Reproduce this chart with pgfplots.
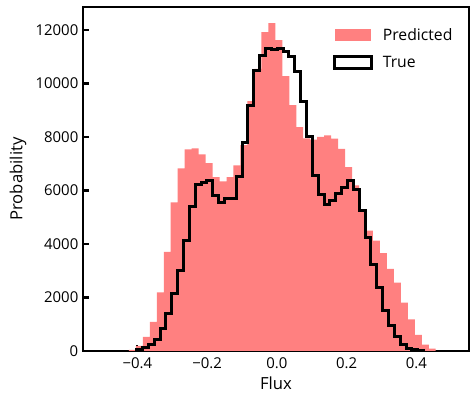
\documentclass[border=0pt]{standalone}
\usepackage{pgfplots}
\pgfplotsset{compat=1.18}
\usepackage{fontspec}
\setmainfont{Open Sans}
\definecolor{predred}{RGB}{255,128,128}
\begin{document}
\begin{tikzpicture}[x=1pt,y=1pt]
\begin{axis}[
  at={(0,0)},anchor=south west,
  scale only axis,
  width=289.5pt,height=258pt,
  xmin=-0.556,xmax=0.551,ymin=0,ymax=12860,
  axis line style={line width=1.7pt},
  tick align=inside,
  xtick pos=bottom,ytick pos=left,
  major tick length=4.5pt,
  every tick/.style={black,line width=1.6pt},
  xtick={-0.4,-0.2,0,0.2,0.4},
  xticklabels={−0.4,−0.2,0.0,0.2,0.4},
  ytick={0,2000,4000,6000,8000,10000,12000},
  yticklabels={0,2000,4000,6000,8000,10000,12000},
  tick label style={font=\fontsize{11.2}{13}\selectfont},
  xticklabel style={yshift=-1.5pt},
  label style={font=\fontsize{12.5}{14}\selectfont},
  xlabel={Flux},ylabel={Probability},
  xlabel style={yshift=1pt},
  legend style={draw=none,fill=none,at={(axis description cs:0.975,0.955)},anchor=north east,
    font=\fontsize{11.8}{14}\selectfont,row sep=6.5pt},
  legend cell align=left,
]
\addplot[const plot mark left,fill=predred,draw=none,
  legend image code/.code={\fill[predred] (0pt,-4.5pt) rectangle (27.5pt,4.5pt);
    \path (33pt,0pt);}]
coordinates {
(-0.4244,40) (-0.4044,190) (-0.3844,525) (-0.3644,1090) (-0.3444,2190)
(-0.3244,3710) (-0.3044,5560) (-0.2844,6825) (-0.2644,7540) (-0.2444,7575)
(-0.2244,7350) (-0.2044,7020) (-0.1844,6500) (-0.1644,6340) (-0.1444,6500)
(-0.1244,6940) (-0.1044,7700) (-0.0844,9340) (-0.0644,10550) (-0.0444,11920)
(-0.0244,12260) (-0.0044,11625) (0.0156,10275) (0.0356,9190) (0.0556,8370)
(0.0756,7950) (0.0956,7900) (0.1156,8000) (0.1356,8060) (0.1556,7940)
(0.1756,7560) (0.1956,6875) (0.2156,6190) (0.2356,5270) (0.2556,4500)
(0.2756,4125) (0.2956,3660) (0.3156,3070) (0.3356,2555) (0.3556,1805)
(0.3756,1180) (0.3956,600) (0.4156,240) (0.4356,85) (0.4556,85)
} \closedcycle;
\addlegendentry{Predicted}
\addplot[const plot mark left,black,line width=2.25pt,
  legend image code/.code={\draw[black,line width=2pt] (0pt,-4.5pt) rectangle (27.5pt,4.5pt);
    \path (33pt,0pt);}]
coordinates {
(-0.4023,0)
(-0.4023,50) (-0.3855,125) (-0.3687,225) (-0.3519,440) (-0.3351,850)
(-0.3183,1410) (-0.3015,2160) (-0.2847,3000) (-0.2679,4125) (-0.2511,5410)
(-0.2343,6225) (-0.2175,6300) (-0.2007,6375) (-0.1839,5800) (-0.1671,5560)
(-0.1503,5690) (-0.1335,5690) (-0.1167,6540) (-0.0999,7810) (-0.0831,9190)
(-0.0663,10500) (-0.0495,11060) (-0.0327,11310) (-0.0158,11275) (0.0010,11310)
(0.0178,11190) (0.0346,11020) (0.0514,10450) (0.0682,9310) (0.0850,8000)
(0.1018,6560) (0.1186,5840) (0.1354,5460) (0.1522,5625) (0.1690,5875)
(0.1858,6100) (0.2026,6375) (0.2194,6040) (0.2362,5250) (0.2530,4260)
(0.2698,3250) (0.2866,2360) (0.3034,1500) (0.3202,940) (0.3370,530)
(0.3538,225) (0.3706,100) (0.3874,60) (0.4042,30) (0.4211,30)
(0.4211,0)
};
\addlegendentry{True}
\end{axis}
\pgfresetboundingbox
\path[use as bounding box] (-62.25pt,-39pt) rectangle (294pt,263.25pt);
\end{tikzpicture}
\end{document}
